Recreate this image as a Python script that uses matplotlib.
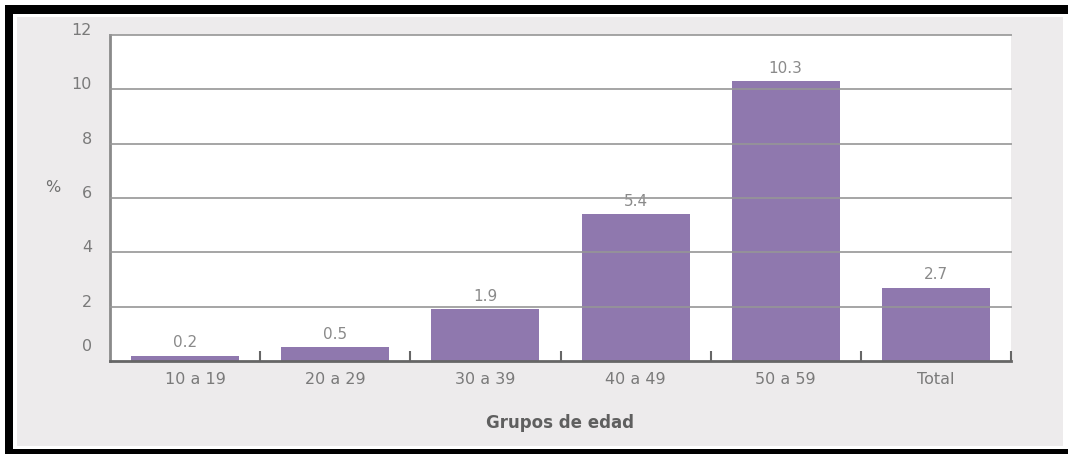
import matplotlib
matplotlib.use("Agg")
import matplotlib.pyplot as plt
import matplotlib.transforms as mtransforms
from matplotlib.patches import Rectangle

categories = ["10 a 19", "20 a 29", "30 a 39", "40 a 49", "50 a 59", "Total"]
values = [0.2, 0.5, 1.9, 5.4, 10.3, 2.7]
value_labels = ["0.2", "0.5", "1.9", "5.4", "10.3", "2.7"]
ytick_values = [0, 2, 4, 6, 8, 10, 12]
ytick_labels = ["0", "2", "4", "6", "8", "10", "12"]
xlabel = "Grupos de edad"
ylabel = "%"

W, H, DPI = 1068, 454, 100
fig = plt.figure(figsize=(W / DPI, H / DPI), dpi=DPI)
fig.patch.set_facecolor("white")

# outer frame: black borders (top, left, bottom) and grey panel
def px_rect(x0, y0, x1, y1, color):
    fig.patches.append(Rectangle((x0 / W, 1 - y1 / H), (x1 - x0) / W, (y1 - y0) / H,
                                 transform=fig.transFigure, facecolor=color,
                                 edgecolor="none", zorder=-10))

px_rect(5, 5, 1068, 13.5, "black")
px_rect(5, 5, 13.5, 454, "black")
px_rect(5, 449, 1068, 454, "black")
px_rect(17, 17, 1063, 446, "#edebec")

ax = fig.add_axes([110 / W, 1 - 361 / H, (1011 - 110) / W, (361 - 35) / H])
ax.set_zorder(5)
ax.set_facecolor("white")

bar_color = "#8f78ae"
x = list(range(len(categories)))
bars = ax.bar(x, values, width=0.72, color=bar_color, zorder=2)

ax.set_xlim(-0.5, len(categories) - 0.5)
ax.set_ylim(0, 12)

# value labels (under the gridlines)
for b, t in zip(bars, value_labels):
    ax.annotate(t, (b.get_x() + b.get_width() / 2, b.get_height()),
                xytext=(0, 4), textcoords="offset points", ha="center", va="bottom",
                fontsize=11, color="#8a8a8a", zorder=2.5)

# gridlines (drawn over the bars and labels)
ax.set_yticks(ytick_values)
ax.set_yticklabels(ytick_labels)
for v in ytick_values[1:]:
    ax.axhline(v, color="#969696", lw=1.4, alpha=0.85, zorder=3, clip_on=False)

# y tick labels: grey, sitting slightly above their lines
ax.tick_params(axis="y", length=0, pad=13, labelsize=11.5, labelcolor="#7a7a7a")
for lab, v in zip(ax.get_yticklabels(), ytick_values):
    dy = 16 if v == 0 else 6
    lab.set_transform(lab.get_transform() + mtransforms.ScaledTranslation(0, dy / DPI, fig.dpi_scale_trans))

# x ticks: labels at centres, tick marks at category boundaries
ax.set_xticks(x)
ax.set_xticklabels(categories)
ax.tick_params(axis="x", which="major", length=0, pad=8, labelsize=11.5, labelcolor="#7a7a7a")
first = ax.get_xticklabels()[0]
first.set_transform(first.get_transform() + mtransforms.ScaledTranslation(10 / DPI, 0, fig.dpi_scale_trans))
ax.set_xticks([i + 0.5 for i in x], minor=True)
ax.tick_params(axis="x", which="minor", direction="in", length=7, width=1.5, color="#666666")

for s in ["top", "right"]:
    ax.spines[s].set_visible(False)
ax.spines["bottom"].set_color("#666666")
ax.spines["bottom"].set_linewidth(2)
ax.spines["left"].set_color("#8a8a8a")
ax.spines["left"].set_linewidth(2)
ax.spines["bottom"].set_zorder(4)

ax.set_xlabel(xlabel, fontsize=12, fontweight="bold", color="#5f5f5f", labelpad=19)
ax.set_ylabel(ylabel, fontsize=11.5, color="#707070", rotation=0, ha="center", va="center")
ax.yaxis.set_label_coords(-0.063, 0.531)

fig.savefig("out.png", dpi=DPI, facecolor=fig.get_facecolor())
